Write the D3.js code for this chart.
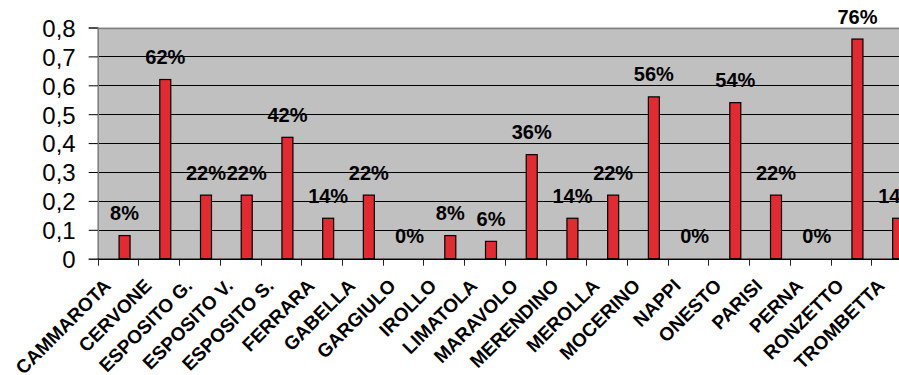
<!DOCTYPE html>
<html>
<head>
<meta charset="utf-8">
<script src="https://cdn.jsdelivr.net/npm/d3@7/dist/d3.min.js"></script>
<style>
  html, body { margin: 0; padding: 0; background: #fff; }
  svg { display: block; }
</style>
</head>
<body>
<svg id="chart" width="899" height="375"></svg>
<script>
const categories = ["CAMMAROTA","CERVONE","ESPOSITO G.","ESPOSITO V.","ESPOSITO S.","FERRARA","GABELLA","GARGIULO","IROLLO","LIMATOLA","MARAVOLO","MERENDINO","MEROLLA","MOCERINO","NAPPI","ONESTO","PARISI","PERNA","RONZETTO","TROMBETTA"];
const values = [0.08,0.62,0.22,0.22,0.42,0.14,0.22,0,0.08,0.06,0.36,0.14,0.22,0.56,0,0.54,0.22,0,0.76,0.14];
const yTicks = [0,0.1,0.2,0.3,0.4,0.5,0.6,0.7,0.8];
const yTickLabels = ["0","0,1","0,2","0,3","0,4","0,5","0,6","0,7","0,8"];

(function () {
const svg = d3.select("#chart");
const pLeft = 97.7, pRight = 912, pTop = 27.5, pBottom = 258.7;
const font = "'Liberation Sans', Arial, sans-serif";

const x = d3.scaleBand().domain(categories).range([pLeft, pRight]).padding(0);
const y = d3.scaleLinear().domain([0, 0.8]).range([pBottom, pTop]);
const bw = x.bandwidth();

// plot background
svg.append("rect").attr("x", pLeft).attr("y", pTop)
  .attr("width", pRight - pLeft).attr("height", pBottom - pTop)
  .attr("fill", "#c0c0c0");

// gridlines
svg.append("g").selectAll("line").data(yTicks.filter(d => d > 0 && d < 0.8)).join("line")
  .attr("x1", pLeft).attr("x2", pRight)
  .attr("y1", d => Math.round(y(d)) + 0.5).attr("y2", d => Math.round(y(d)) + 0.5)
  .attr("stroke", "#000").attr("stroke-width", 1);

// top border
svg.append("line").attr("x1", pLeft).attr("x2", pRight)
  .attr("y1", Math.round(pTop) + 0.5).attr("y2", Math.round(pTop) + 0.5)
  .attr("stroke", "#808080").attr("stroke-width", 1.5);

// bars
svg.append("g").selectAll("rect").data(values).join("rect")
  .attr("x", (d, i) => x(categories[i]) + bw * 0.525)
  .attr("y", d => y(d))
  .attr("width", bw * 0.27)
  .attr("height", d => pBottom - y(d))
  .attr("fill", "#e02b33")
  .attr("stroke", "#000").attr("stroke-width", 1.2);

// y axis
const yAxis = d3.axisLeft(y).tickValues(yTicks)
  .tickFormat((d, i) => yTickLabels[i]).tickSize(9).tickPadding(13);
const gy = svg.append("g").attr("transform", `translate(${pLeft},0)`).call(yAxis);
gy.select(".domain").attr("stroke", "#808080").attr("stroke-width", 1.5);
gy.selectAll(".tick line").attr("stroke", "#000");
gy.selectAll(".tick text").attr("font-family", font).attr("font-size", 24)
  .attr("fill", "#000").attr("dy", "0.37em");

// x axis
const gx = svg.append("g").attr("transform", `translate(0,${pBottom})`);
gx.append("line").attr("x1", pLeft).attr("x2", pRight).attr("y1", 0.5).attr("y2", 0.5)
  .attr("stroke", "#000").attr("stroke-width", 1.5);
gx.selectAll("line.tk").data(d3.range(categories.length + 1)).join("line")
  .attr("class", "tk")
  .attr("x1", i => Math.round(pLeft + i * bw) + 0.5).attr("x2", i => Math.round(pLeft + i * bw) + 0.5)
  .attr("y1", 0).attr("y2", 7).attr("stroke", "#222");

// x labels
svg.append("g").selectAll("text").data(categories).join("text")
  .attr("transform", d => `translate(${x(d) + bw / 2 - 6},287) rotate(-45)`)
  .attr("text-anchor", "end")
  .attr("font-family", font).attr("font-weight", "bold").attr("font-size", 19)
  .attr("fill", "#000")
  .text(d => d);

// data labels
svg.append("g").selectAll("text").data(values).join("text")
  .attr("x", (d, i) => x(categories[i]) + bw * 0.66)
  .attr("y", d => y(d) - 15.5)
  .attr("text-anchor", "middle")
  .attr("font-family", font).attr("font-weight", "bold").attr("font-size", 20)
  .attr("fill", "#000")
  .text(d => Math.round(d * 100) + "%");
})();
</script>
</body>
</html>
